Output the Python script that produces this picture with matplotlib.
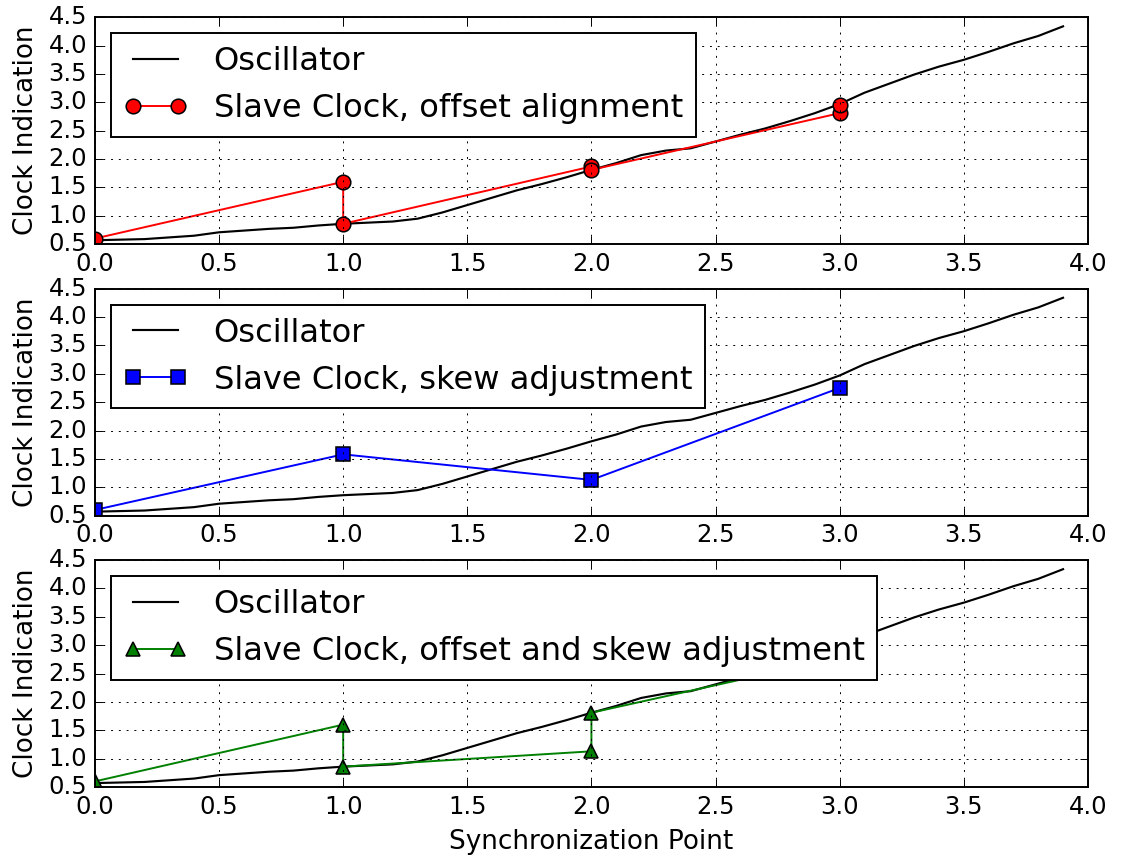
import numpy as np
import matplotlib
matplotlib.use('Agg')
import matplotlib.pyplot as plt

plt.style.use('classic')
plt.rcParams['figure.facecolor'] = 'white'
plt.rcParams['savefig.facecolor'] = 'white'

# oscillator reading, sampled every 0.1 sync units
osc_t = np.arange(40) / 10.0
osc_v = [0.57, 0.58, 0.59, 0.62, 0.65, 0.71, 0.74, 0.77, 0.79, 0.83,
         0.86, 0.88, 0.90, 0.95, 1.06, 1.19, 1.32, 1.45, 1.56, 1.68,
         1.81, 1.93, 2.07, 2.15, 2.19, 2.31, 2.43, 2.54, 2.67, 2.81,
         2.97, 3.17, 3.33, 3.49, 3.63, 3.75, 3.89, 4.04, 4.17, 4.34]

# slave clock, offset alignment only
off_t = [0, 1, 1, 2, 2, 3, 3]
off_v = [0.60, 1.60, 0.86, 1.87, 1.81, 2.81, 2.96]

# slave clock, skew adjustment only
skew_t = [0, 1, 2, 3]
skew_v = [0.60, 1.58, 1.13, 2.75]

# slave clock, offset and skew
both_t = [0, 1, 1, 2, 2, 3, 3]
both_v = [0.60, 1.60, 0.86, 1.13, 1.81, 2.78, 2.96]

series = [
    (off_t, off_v, 'ro-', 'Slave Clock, offset alignment'),
    (skew_t, skew_v, 'bs-', 'Slave Clock, skew adjustment'),
    (both_t, both_v, 'g^-', 'Slave Clock, offset and skew adjustment'),
]

dpi = 140
fig, axes = plt.subplots(3, 1, figsize=(1125.0 / dpi, 863.0 / dpi), dpi=dpi)
fig.subplots_adjust(left=0.0844, right=0.967, top=0.980, bottom=0.088,
                    hspace=0.196)

for ax, (t, v, fmt, lab) in zip(axes, series):
    ax.plot(osc_t, osc_v, 'k-', lw=1.1, label='Oscillator')
    ax.plot(t, v, fmt, label=lab, markersize=7.5, markeredgewidth=0.8)
    ax.set_xlim(0, 4.0)
    ax.set_ylim(0.5, 4.5)
    ax.set_xticks(np.arange(0, 4.01, 0.5))
    ax.set_yticks(np.arange(0.5, 4.51, 0.5))
    ax.grid(True)
    ax.set_ylabel('Clock Indication', fontsize=13.5)
    ax.tick_params(labelsize=12.5)
    ax.legend(loc='upper left', fontsize=16.5, numpoints=2,
              handlelength=2.0, handletextpad=0.8)

axes[-1].set_xlabel('Synchronization Point', fontsize=13.5)

fig.savefig('out.png', dpi=dpi)
